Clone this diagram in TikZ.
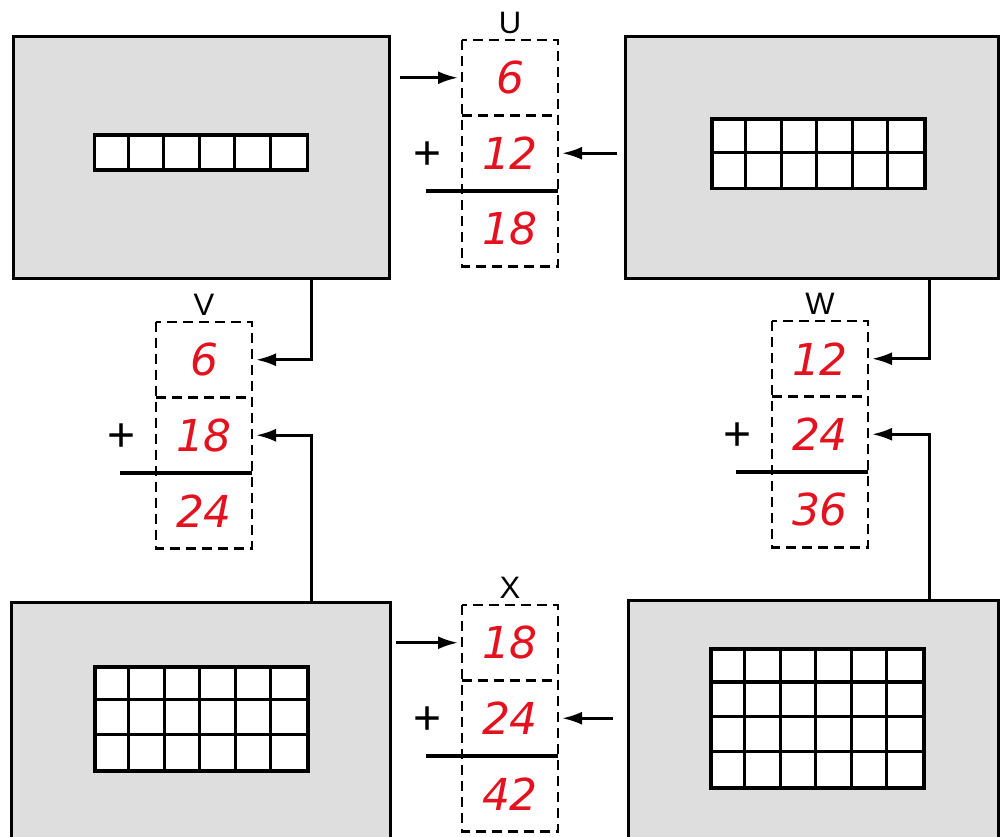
\documentclass[tikz,border=0pt]{standalone}
\usepackage{fontspec}
\setmainfont{Liberation Sans}
\newfontfamily\numfont{DejaVu Sans}
\usetikzlibrary{arrows.meta,calc}
\definecolor{panelgray}{gray}{0.87}
\definecolor{numred}{RGB}{228,18,30}
\tikzset{
 panel/.style={draw=black, line width=3pt, fill=panelgray, inner sep=0, anchor=north west},
 gridbox/.style={draw=black, line width=3.6pt, fill=white, inner sep=0, minimum width=213pt},
 gridline/.style={line width=3.2pt},
 cell/.style={minimum width=96pt, minimum height=75.5pt, inner sep=0, outer sep=0},
 num/.style={text=numred, font=\numfont\itshape\fontsize{44}{44}\selectfont},
 lab/.style={font=\fontsize{31}{31}\selectfont, anchor=south, inner sep=0},
 plus/.style={font=\fontsize{48}{48}\selectfont, inner sep=0},
 dbox/.style={dash pattern=on 10pt off 6pt, line width=2.4pt},
 sumline/.style={line width=3.2pt},
 arr/.style={line width=2.8pt, -{Latex[length=20pt,width=13pt]}, shorten >=4pt}
}
\newcommand\cellgrid[4]{%
 \node[gridbox, minimum height=#4*34.7pt] (#1) at (#2,#3) {};
 \foreach \i in {1,...,5} \draw[gridline] ($(#1.north west)+(\i*35.5,0)$) -- ($(#1.south west)+(\i*35.5,0)$);
}
\newcommand\hrow[2]{%
 \draw[gridline] ($(#1.north west)+(0,#2*34.7)$) -- ($(#1.north east)+(0,#2*34.7)$);
}
\newcommand\sumbox[7]{% name, cx, ytop, label, a, b, c
 \node[cell] (#11) at (#2,#3+37.75) {};
 \node[cell] (#12) at (#2,#3+113.25) {};
 \node[cell] (#13) at (#2,#3+188.75) {};
 \node[num] at (#11) {#5};
 \node[num] at (#12) {#6};
 \node[num] at (#13) {#7};
 \draw[dbox] (#11.north west) rectangle (#13.south east);
 \draw[dbox] (#11.south west) -- (#11.south east);
 \draw[sumline] ([xshift=-36pt]#13.north west) -- (#13.north east);
 \node[lab] (#1lab) at ([yshift=6pt]#11.north) {#4};
 \node[plus] (#1plus) at ([xshift=-34pt,yshift=-2pt]#12.west) {+};
}
\begin{document}
\begin{tikzpicture}[x=1pt,y=-1pt]
\useasboundingbox (0,0) rectangle (1005,837);
\clip (0,0) rectangle (1005,837);
% panels
\node[panel, minimum width=376pt, minimum height=242pt] (tl) at (12,35) {};
\node[panel, minimum width=373pt, minimum height=242pt] (tr) at (624,35) {};
\node[panel, minimum width=379pt, minimum height=260pt] (bl) at (10,601) {};
\node[panel, minimum width=370pt, minimum height=260pt] (br) at (627,599) {};
% grids
\cellgrid{g1}{201}{152.5}{1}
\cellgrid{g2}{818.5}{154}{2}
\hrow{g2}{1}
\cellgrid{g3}{201.5}{719}{3}
\hrow{g3}{1}\hrow{g3}{2}
\cellgrid{g4}{817.5}{718.5}{4}
\hrow{g4}{1}\hrow{g4}{2}\hrow{g4}{3}
% sum boxes
\sumbox{U}{510}{40}{U}{6}{12}{18}
\sumbox{V}{204}{322}{V}{6}{18}{24}
\sumbox{W}{820}{321}{W}{12}{24}{36}
\sumbox{X}{510}{605}{X}{18}{24}{42}
% connectors
\draw[arr] ([xshift=9pt]tl.east |- U1.west) -- (U1.west);
\draw[arr] ([xshift=-7pt]tr.west |- U2.east) -- (U2.east);
\draw[arr] ([xshift=110pt]tl.south) |- (V1.east);
\draw[arr] ([xshift=110.5pt]bl.north) |- (V2.east);
\draw[arr] ([xshift=117.5pt]tr.south) |- (W1.east);
\draw[arr] ([xshift=116pt]br.north) |- (W2.east);
\draw[arr] ([xshift=4pt]bl.east |- X1.west) -- (X1.west);
\draw[arr] ([xshift=-14pt]br.west |- X2.east) -- (X2.east);
\end{tikzpicture}
\end{document}
